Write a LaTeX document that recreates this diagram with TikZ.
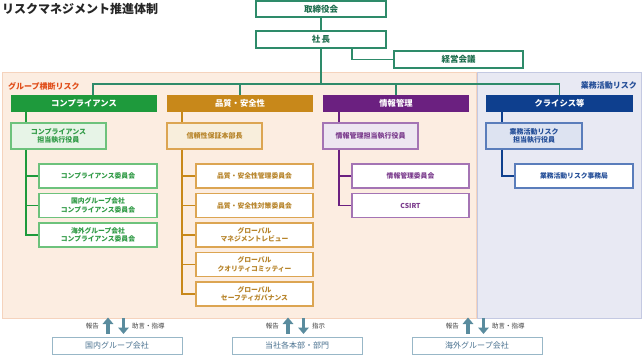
\documentclass[tikz,border=0pt]{standalone}
\usepackage{fontspec}
\setmainfont{Noto Sans CJK JP}
\usetikzlibrary{arrows.meta}
\definecolor{teal}{HTML}{2E8B6A}
\definecolor{tealtx}{HTML}{1F6F4F}
\definecolor{peach}{HTML}{FCEDE1}
\definecolor{peachbd}{HTML}{F5D3BD}
\definecolor{lav}{HTML}{E8E9F3}
\definecolor{lavbd}{HTML}{C4C9E2}
\definecolor{gbar}{HTML}{1E9A3C}
\definecolor{obar}{HTML}{C8881A}
\definecolor{pbar}{HTML}{6B2080}
\definecolor{bbar}{HTML}{0E3F8E}
\definecolor{gbd}{HTML}{6DC27C}
\definecolor{obd}{HTML}{DCA552}
\definecolor{pbd}{HTML}{A474B4}
\definecolor{bbd}{HTML}{5A7DBB}
\definecolor{gtx}{HTML}{2F9A45}
\definecolor{otx}{HTML}{B7842A}
\definecolor{ptx}{HTML}{7A3A8C}
\definecolor{btx}{HTML}{244E98}
\definecolor{gfill}{HTML}{E7F4E7}
\definecolor{ofill}{HTML}{F8EEDC}
\definecolor{pfill}{HTML}{EDE6F1}
\definecolor{bfill}{HTML}{DDE3F1}
\definecolor{botbd}{HTML}{98B7C7}
\definecolor{bottx}{HTML}{4C7391}
\definecolor{arr}{HTML}{5A8C9E}
\definecolor{redor}{HTML}{E04E1A}
\tikzset{
  topbox/.style={draw=teal,line width=1.2pt,fill=white,minimum width=130pt,minimum height=17pt,inner sep=0pt,font=\fontsize{8.5}{10}\selectfont\bfseries,text=tealtx},
  bar/.style={minimum width=146pt,minimum height=17pt,inner sep=0pt,font=\fontsize{8.3}{10}\selectfont\bfseries,text=white},
  midbox/.style={line width=1.2pt,minimum width=95pt,minimum height=26pt,inner sep=0pt,align=center,font=\fontsize{7}{8.5}\selectfont\bfseries},
  subbox/.style={line width=1.2pt,fill=white,minimum width=117pt,minimum height=24pt,inner sep=0pt,align=center,font=\fontsize{6.8}{8.5}\selectfont\bfseries},
  botbox/.style={draw=botbd,line width=1pt,fill=white,minimum width=130pt,minimum height=17pt,inner sep=0pt,font=\fontsize{8}{10}\selectfont,text=bottx},
  small/.style={font=\fontsize{6.5}{8}\selectfont,text=black!75,inner sep=0pt},
  conn/.style={line width=1.2pt},
  uparr/.style={draw=arr,line width=3.5pt,-{Triangle[width=10.5pt,length=6.5pt]}}
}
\begin{document}
\begin{tikzpicture}[x=1pt,y=-1pt]
\useasboundingbox (0,0) rectangle (643,356);
\fill[white] (0,0) rectangle (643,356);
% regions
\draw[fill=peach,draw=peachbd,line width=1pt] (2,72) rectangle (476,318);
\draw[fill=lav,draw=lavbd,line width=1pt] (477.5,72) rectangle (641,318);
\node[anchor=west,inner sep=0pt,font=\fontsize{12}{14}\selectfont\bfseries,text=black!85] (title) at (2,9) {リスクマネジメント推進体制};
\node[anchor=west,inner sep=0pt,font=\fontsize{8}{10}\selectfont\bfseries,text=redor] (grp) at (8,86) {グループ横断リスク};
\node[anchor=east,inner sep=0pt,font=\fontsize{8}{10}\selectfont\bfseries,text=btx] (biz) at (637,85) {業務活動リスク};
% top
\node[topbox,minimum height=16pt] (board) at (321,9) {取締役会};
\node[topbox] (pres) at (321,39.5) {社\,長};
\node[topbox,minimum width=129pt] (mgmt) at (458.5,59.5) {経営会議};
\draw[teal,conn] (board) -- (pres);
\draw[teal,conn] (pres.south -| 352,0) |- (mgmt.west);
% bars
\node[bar,fill=gbar] (gb) at (84,103.5) {コンプライアンス};
\node[bar,fill=obar] (ob) at (240,103.5) {品質・安全性};
\node[bar,fill=pbar] (pb) at (396,103.5) {情報管理};
\node[bar,fill=bbar,minimum width=147pt] (bb) at (559.5,103.5) {クライシス等};
\coordinate (hub) at (321,84);
\draw[teal,conn] (pres.south) -- (hub);
\draw[teal,conn] (gb.north -| 93,0) |- (bb.north |- hub) -- (bb.north);
\draw[teal,conn] (ob.north) -- (ob.north |- hub);
\draw[teal,conn] (pb.north) -- (pb.north |- hub);
% second level
\node[midbox,draw=gbd,fill=gfill,text=gtx] (g2) at (58.5,136) {コンプライアンス\\担当執行役員};
\node[midbox,draw=obd,fill=ofill,text=otx] (o2) at (214.5,136) {信頼性保証本部長};
\node[midbox,draw=pbd,fill=pfill,text=ptx] (p2) at (370.5,136) {情報管理担当執行役員};
\node[midbox,draw=bbd,fill=bfill,text=btx,minimum width=96pt] (b2) at (534,136) {業務活動リスク\\担当執行役員};
% third level green
\node[subbox,draw=gbd,text=gtx,minimum width=118pt] (g3a) at (98,176) {コンプライアンス委員会};
\node[subbox,draw=gbd,text=gtx,minimum width=118pt] (g3b) at (98,205.5) {国内グループ会社\\コンプライアンス委員会};
\node[subbox,draw=gbd,text=gtx,minimum width=118pt] (g3c) at (98,235) {海外グループ会社\\コンプライアンス委員会};
% orange
\node[subbox,draw=obd,text=otx] (o3a) at (254.5,176) {品質・安全性管理委員会};
\node[subbox,draw=obd,text=otx] (o3b) at (254.5,205.5) {品質・安全性対策委員会};
\node[subbox,draw=obd,text=otx] (o3c) at (254.5,235) {グローバル\\マネジメントレビュー};
\node[subbox,draw=obd,text=otx] (o3d) at (254.5,264.5) {グローバル\\クオリティコミッティー};
\node[subbox,draw=obd,text=otx] (o3e) at (254.5,294) {グローバル\\セーフティガバナンス};
% purple
\node[subbox,draw=pbd,text=ptx] (p3a) at (410.5,176) {情報管理委員会};
\node[subbox,draw=pbd,text=ptx] (p3b) at (410.5,205.5) {CSIRT};
% blue
\node[subbox,draw=bbd,text=btx,minimum width=118pt] (b3a) at (574,176) {業務活動リスク事務局};
% connectors
\draw[gbar,conn] (gb.south -| 26,0) -- (g2.north -| 26,0);
\draw[gbar,conn] (g2.south -| 26,0) |- (g3c.west);
\draw[gbar,conn] (26,176) -- (g3a.west);
\draw[gbar,conn] (26,205.5) -- (g3b.west);
\draw[obar,conn] (ob.south -| 182,0) -- (o2.north -| 182,0);
\draw[obar,conn] (o2.south -| 182,0) |- (o3e.west);
\foreach \n in {o3a,o3b,o3c,o3d} \draw[obar,conn] (\n.west) -- (\n.west -| 182,0);
\draw[pbar,conn] (pb.south -| 339,0) -- (p2.north -| 339,0);
\draw[pbar,conn] (p2.south -| 339,0) |- (p3b.west);
\draw[pbar,conn] (p3a.west) -- (p3a.west -| 339,0);
\draw[bbar,conn] (bb.south -| 502,0) -- (b2.north -| 502,0);
\draw[bbar,conn] (b2.south -| 502,0) |- (b3a.west);
% bottom
\node[botbox] (dom) at (117,345.5) {国内グループ会社};
\node[botbox] (hq) at (297,345.5) {当社各本部・部門};
\node[botbox] (ovs) at (477,345.5) {海外グループ会社};
\foreach \b/\l/\r in {dom/報告/助言・指導, hq/報告/指示, ovs/報告/助言・指導}{
  \coordinate (\b u) at ([xshift=-9pt]\b.north);
  \coordinate (\b d) at ([xshift=6.5pt]\b.north);
  \draw[uparr] ([yshift=3pt]\b u) -- ([yshift=19pt]\b u);
  \draw[uparr] ([yshift=18.5pt]\b d) -- ([yshift=2.5pt]\b d);
  \node[small,anchor=east] (\b l) at ([xshift=-18pt,yshift=10.5pt]\b.north) {\l};
  \node[small,anchor=west] (\b r) at ([xshift=15pt,yshift=10.5pt]\b.north) {\r};
}
\end{tikzpicture}
\end{document}
